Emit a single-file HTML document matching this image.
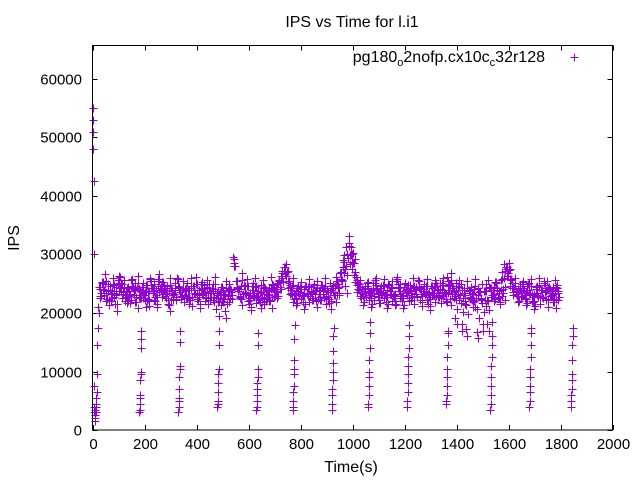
<!DOCTYPE html>
<html><head><meta charset="utf-8"><style>
body{margin:0;background:#fff}
svg{display:block;font-family:"Liberation Sans",sans-serif}
</style></head><body>
<svg id="chart" width="640" height="480" viewBox="0 0 640 480" xmlns="http://www.w3.org/2000/svg">
<rect width="640" height="480" fill="#fff"/>
<text x="352" y="27" font-size="16" text-anchor="middle">IPS vs Time for l.i1</text>
<text x="19" y="238" font-size="16" text-anchor="middle" transform="rotate(-90 19 238)">IPS</text>
<text x="351" y="472" font-size="16" text-anchor="middle">Time(s)</text>
<g id="axes"></g>
<g id="marks"></g>
<g>
<text x="545" y="62" font-size="16" text-anchor="end">pg180<tspan font-size="11" dy="4">o</tspan><tspan dy="-4">2nofp.cx10c</tspan><tspan font-size="11" dy="4">c</tspan><tspan dy="-4">32r128</tspan></text>
<path d="M570.5 57.5h8M574.5 53.5v8" stroke="#9400d3" stroke-width="1"/>
</g>
<rect x="92.5" y="45.5" width="520" height="384.5" fill="none" stroke="#000" stroke-width="1"/>
</svg>
<script>
const xTicks=[0,200,400,600,800,1000,1200,1400,1600,1800,2000];
const yTicks=[0,10000,20000,30000,40000,50000,60000];
const bandA=[24.5,25.2,23.1,22.4,24.6,23.8,21.5,24.9,26.1,23.2,22.8,24.4,25.6,23.0,21.9,24.1,23.6,22.2,24.8,25.9,23.4,22.1,24.7,23.9,25.3,22.6,21.4,24.2,23.3,25.8,24.0,22.9,23.7,25.1,22.3,24.6,23.5,22.0,24.3,23.1,22.7,24.9,23.4,21.8,23.0,22.5,24.4,20.3,22.9,24.1,29.6,25.5,23.8,22.4,24.7,23.2,21.6,24.0,22.8,23.5,21.9,22.6,24.3,23.1,22.0,24.8,23.6,25.2,26.4,27.8,28.3,25.1,23.0,22.4,24.2,23.5,21.8,24.6,22.9,23.7,24.4,22.1,23.3,24.8,22.6,23.9,21.7,24.2,23.0,25.5,26.8,27.9,24.6,29.4,31.2,30.3,26.2,24.0,22.5,23.8,24.7,22.2,23.4,25.1,22.8,24.3,23.6,21.9,24.9,23.2,22.5,25.4,23.7,22.0,24.5,23.1,24.8,22.7,23.9,25.6,22.3,24.1,23.4,21.6,24.6,23.0,25.2,22.8,24.0,23.5,26.1,22.4,24.7,19.2,23.3,25.0,22.6,17.2,23.8,24.4,22.1,16.8,23.6,24.9,22.3,18.1,24.2,23.1,25.3,22.7,24.0,23.4,27.9,28.6,25.7,24.3,22.9,23.8,25.0,22.5,24.6,23.2,21.8,24.1,22.7,23.9,25.4,22.2,24.5,23.0,21.9,24.8,23.5,22.6];
const bandB=[22.9,24.1,25.5,23.7,22.0,24.8,23.3,25.1,22.6,24.4,23.0,21.7,24.6,23.9,25.2,22.5,24.0,23.6,21.2,24.3,23.8,22.7,25.4,24.1,22.9,23.5,24.8,22.2,23.9,24.6,22.4,24.2,23.1,21.5,24.7,23.4,25.0,22.8,24.1,23.6,24.5,22.3,23.8,24.9,22.6,23.2,21.9,24.3,23.7,22.4,28.1,24.2,22.9,25.6,23.4,24.6,22.2,23.9,24.7,22.5,23.6,24.4,22.0,23.1,24.9,22.7,23.8,24.5,25.9,26.6,24.3,23.2,24.8,22.6,23.5,24.1,22.9,23.4,24.6,22.2,23.7,24.2,22.8,23.3,24.7,22.4,24.0,23.6,24.9,23.1,25.8,28.7,30.1,32.0,27.5,25.3,23.6,24.5,22.9,23.4,24.1,22.6,23.9,24.8,22.3,23.5,24.6,22.8,23.2,24.3,22.1,24.9,23.7,22.5,24.0,23.6,22.2,24.7,23.3,24.2,22.9,23.8,24.6,22.4,23.1,24.5,22.7,23.9,24.8,22.0,23.4,25.7,22.6,23.9,24.4,16.9,23.0,24.2,22.5,21.0,24.6,23.1,22.4,17.0,23.7,24.5,22.8,23.3,24.0,22.6,25.8,27.2,26.3,24.6,23.1,24.7,22.9,23.5,24.2,22.4,23.9,24.6,22.1,23.4,24.8,22.7,23.6,24.3,22.9,23.2,24.5,22.3];
const spikeT=[1,2,3,3,4,5,6,6,7,8,9,10,11,12,13,14,15,16,17,18,20,22,25,28];
const spikeV=[55000,53000,51000,48000,42500,30000,7500,4000,3000,2000,1500,3500,2500,4500,3000,5500,4000,6500,9500,14500,17500,21000,20000,22500];
const stripeStart=[180,330,480,630,770,920,1060,1210,1360,1530,1680,1840];
const stripeV=[
[3000,3500,4500,5500,6000,8500,9500,10000,14000,15500,17000],
[3000,4000,5000,5500,7000,9000,10500,11000,15000,17000],
[4000,4500,5000,6500,8000,9500,10500,14500,17000,19500],
[3500,4000,5000,6000,7000,8000,9000,10500,14500,16500],
[3500,4000,5000,6500,7500,9500,10500,12000,15500,18000],
[3500,4500,6000,7000,8500,10000,11500,13500,16000,17500],
[4000,4500,6000,7500,9000,10000,12000,14000,16500,18500],
[4000,5000,6500,8000,9500,11000,12500,14000,16000,18000],
[4500,5000,6000,7500,9000,10500,12500,14500,16500,17000],
[3500,4500,6000,7500,9000,11000,12500,14500,16000,18500],
[4000,5000,6500,7500,9000,10500,12500,14500,16500,17500],
[4000,5000,6000,7000,8500,9500,12000,14500,16000,17500]];
const NS="http://www.w3.org/2000/svg";
const X0=92.5,X1=612.5,Y0=430,Y1=45.5,XMAX=2000,YMAX=(430-45.5)/0.00585;
function xs(v){return X0+(X1-X0)*v/XMAX;}
function ys(v){return Y0-(Y0-Y1)*v/YMAX;}
const axes=document.getElementById('axes'),marks=document.getElementById('marks');
function mk(tag,attrs,parent){const e=document.createElementNS(NS,tag);for(const k in attrs)e.setAttribute(k,attrs[k]);parent.appendChild(e);return e;}
xTicks.forEach(t=>{const x=Math.round(xs(t))+0.5;
const l=mk('path',{d:`M${x} ${Y0}v-5M${x} ${Y1}v5`,stroke:'#000','stroke-width':1},axes);


const tx=mk('text',{x:x,y:449,'font-size':15,'text-anchor':'middle'},axes);tx.textContent=t;

});
yTicks.forEach(t=>{const y=Math.round(ys(t))+0.5;
const l=mk('path',{d:`M${X0} ${y}h5M${X1} ${y}h-5`,stroke:'#000','stroke-width':1},axes);


const tx=mk('text',{x:82,y:y+5,'font-size':15,'text-anchor':'end'},axes);tx.textContent=t;

});
let d='';
function plus(t,v){if(!isFinite(t)||!isFinite(v)||t>1855)return;const x=Math.round(xs(t))+0.5,y=Math.round(ys(v))+0.5;d+=`M${x-4} ${y}h8M${x} ${y-4}v8`;}
const n=Math.min(bandA.length,bandB.length);
const S=10.3;
for(let i=0;i<n;i++){
 plus(25+S*i,bandA[i]*1000);
 plus(30+S*i,bandB[i]*1000);
 plus(27+S*i,(bandA[i]+bandB[i])*500+700);
 plus(33+S*i,(bandA[i]+bandB[i])*500-800);
 plus(29+S*i,bandB[i]*1000+1200);
 plus(31+S*i,bandA[i]*1000-1100);
}
spikeT.forEach((t,i)=>plus(t,spikeV[i]));
stripeStart.forEach((s,i)=>stripeV[i].forEach((v,j)=>plus(s+j*0.8,v)));
const p=mk('path',{d:d,stroke:'#9400d3','stroke-width':1,fill:'none'},marks);


</script>
</body></html>
